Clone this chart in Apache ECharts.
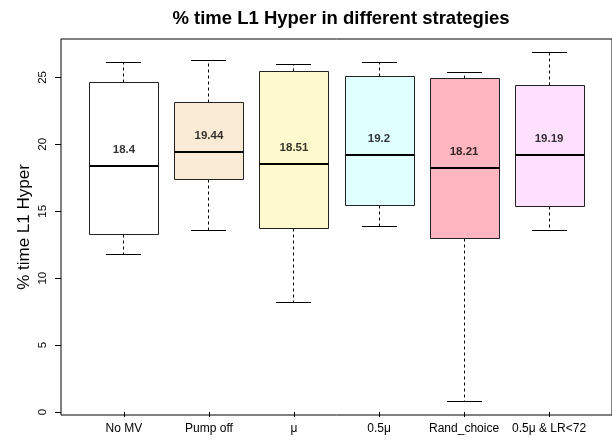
<!DOCTYPE html>
<html>
<head>
<meta charset="utf-8">
<script src="https://cdn.jsdelivr.net/npm/echarts@6/dist/echarts.min.js"></script>
<style>html,body{margin:0;padding:0;background:#fff;}#c{width:612px;height:441px;}</style>
</head>
<body>
<div id="c"></div>
<script>
// ---- data ----
const categories = ['No MV', 'Pump off', 'μ', '0.5μ', 'Rand_choice', '0.5μ & LR<72'];
const lowerWhisker = [11.76, 13.60, 8.17, 13.83, 0.82, 13.57];
const q1 = [13.30, 17.41, 13.70, 15.42, 12.93, 15.32];
const median = [18.4, 19.44, 18.51, 19.2, 18.21, 19.19];
const q3 = [24.59, 23.14, 25.46, 25.08, 24.91, 24.41];
const upperWhisker = [26.08, 26.23, 25.93, 26.08, 25.38, 26.83];
const medianLabels = ['18.4', '19.44', '18.51', '19.2', '18.21', '19.19'];
const yTicks = [0, 5, 10, 15, 20, 25];

// ---- styles ----
const boxColors = ['#FFFFFF', '#FAEBD7', '#FFFACD', '#E0FFFF', '#FFB6C1', '#FFE1FF'];
const FONT = 'Liberation Sans, Arial, Helvetica, sans-serif';

const positions = categories.map((c, i) => i + 1);
const boxData = categories.map((c, i) => [positions[i], lowerWhisker[i], q1[i], median[i], q3[i], upperWhisker[i]]);
const labelData = categories.map((c, i) => [positions[i], median[i]]);

const crisp = v => Math.round(v - 0.5) + 0.5;

function renderBox(params, api) {
  const x = api.value(0);
  const lo = api.coord([x, api.value(1)]);
  const b1 = api.coord([x, api.value(2)]);
  const md = api.coord([x, api.value(3)]);
  const b3 = api.coord([x, api.value(4)]);
  const hi = api.coord([x, api.value(5)]);
  const boxW = api.size([0.8, 0])[0];
  const capW = api.size([0.4, 0])[0];
  const cx = crisp(lo[0]);
  const left = Math.round(cx - boxW / 2) + 0.5;
  const right = Math.round(cx + boxW / 2) + 0.5;
  const capL = Math.round(cx - capW / 2);
  const capR = Math.round(cx + capW / 2);
  const yLo = crisp(lo[1]), y1 = crisp(b1[1]), yM = Math.round(md[1]), y3 = crisp(b3[1]), yHi = crisp(hi[1]);
  const dash = { stroke: '#000', lineWidth: 1, lineDash: [3, 3] };
  const solid = { stroke: '#000', lineWidth: 1 };
  return {
    type: 'group',
    children: [
      { type: 'line', shape: { x1: cx, y1: y3, x2: cx, y2: yHi }, style: dash },
      { type: 'line', shape: { x1: cx, y1: y1, x2: cx, y2: yLo }, style: dash },
      { type: 'line', shape: { x1: capL, y1: yHi, x2: capR, y2: yHi }, style: solid },
      { type: 'line', shape: { x1: capL, y1: yLo, x2: capR, y2: yLo }, style: solid },
      { type: 'rect', shape: { x: left, y: y3, width: right - left, height: y1 - y3 },
        style: { fill: boxColors[params.dataIndex], stroke: '#222', lineWidth: 1 } },
      { type: 'line', shape: { x1: left, y1: yM, x2: right, y2: yM }, style: { stroke: '#000', lineWidth: 2 } }
    ]
  };
}

const chart = echarts.init(document.getElementById('c'), null, { renderer: 'canvas' });
chart.setOption({
  animation: false,
  backgroundColor: '#fff',
  textStyle: { fontFamily: FONT },
  title: {
    text: '% time L1 Hyper in different strategies',
    left: 336, top: 4, textAlign: 'center',
    textStyle: { fontFamily: FONT, fontSize: 18.5, fontWeight: 'bold', color: '#000' }
  },
  grid: {
    left: 61, top: 39, right: 0, bottom: 26,
    show: true, borderColor: '#000', borderWidth: 1, backgroundColor: 'transparent'
  },
  xAxis: {
    type: 'value', min: 0.26, max: 6.74,
    splitLine: { show: false },
    axisLine: { show: false },
    axisTick: { show: true, length: 5, customValues: positions, lineStyle: { color: '#000' } },
    axisLabel: {
      customValues: positions, margin: 8,
      formatter: v => categories[Math.round(v) - 1] || '',
      fontFamily: FONT, fontSize: 12, color: '#000'
    }
  },
  yAxis: {
    type: 'value', min: -0.22, max: 27.87,
    name: '% time L1 Hyper', nameLocation: 'middle', nameRotate: 90, nameGap: 28,
    nameMoveOverlap: false,
    nameTextStyle: { fontFamily: FONT, fontSize: 17, color: '#000' },
    splitLine: { show: false },
    axisLine: { show: false },
    axisTick: { show: true, length: 6, customValues: yTicks, lineStyle: { color: '#000' } },
    axisLabel: {
      customValues: yTicks, rotate: 90, margin: 12,
      fontFamily: FONT, fontSize: 11.5, color: '#000'
    }
  },
  series: [
    {
      type: 'custom', renderItem: renderBox, data: boxData,
      encode: { x: 0, y: [1, 2, 3, 4, 5] }, clip: false
    },
    {
      type: 'scatter', data: labelData, symbolSize: 0, silent: true,
      label: {
        show: true, position: 'inside', offset: [0, -16],
        formatter: p => medianLabels[p.dataIndex],
        fontFamily: FONT, fontSize: 11.5, fontWeight: 'bold', color: '#000',
        textBorderWidth: 0
      }
    }
  ]
});
</script>
</body>
</html>
